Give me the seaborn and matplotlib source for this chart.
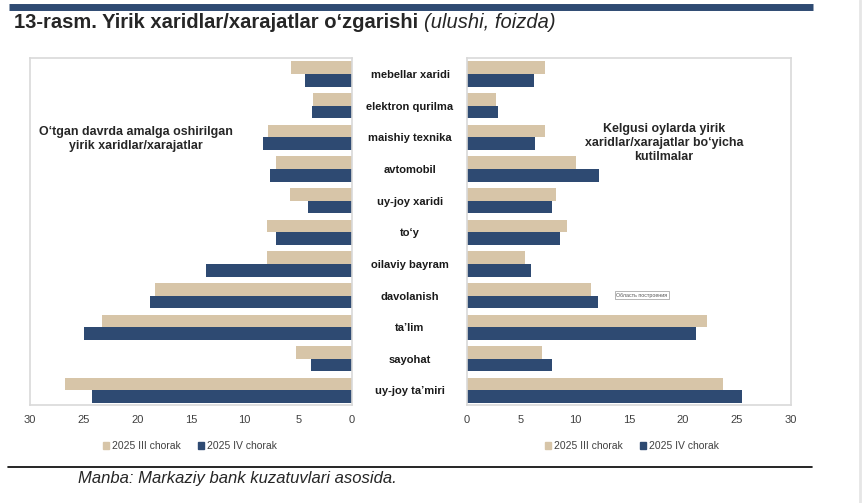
import pandas as pd
import matplotlib.pyplot as plt
import seaborn as sns
from matplotlib.patches import Patch
from matplotlib.lines import Line2D

# categories, top to bottom
categories = ['mebellar xaridi', 'elektron qurilma', 'maishiy texnika', 'avtomobil',
              'uy-joy xaridi', 'to‘y', 'oilaviy bayram', 'davolanish',
              'ta’lim', 'sayohat', 'uy-joy ta’miri']
periods = ['2025 III chorak', '2025 IV chorak']

# past period (left panel)
past_q3 = [5.7, 3.6, 7.8, 7.1, 5.8, 7.9, 7.9, 18.4, 23.3, 5.2, 26.7]
past_q4 = [4.4, 3.7, 8.3, 7.6, 4.1, 7.1, 13.6, 18.8, 25.0, 3.8, 24.2]
# expectations (right panel)
next_q3 = [7.2, 2.7, 7.2, 10.1, 8.2, 9.3, 5.4, 11.5, 22.2, 6.9, 23.7]
next_q4 = [6.2, 2.9, 6.3, 12.2, 7.9, 8.6, 5.9, 12.1, 21.2, 7.9, 25.5]

ticks = [0, 5, 10, 15, 20, 25, 30]

beige = '#D7C5A8'
navy = '#2E4A72'
grey = '#D9D9D9'


def long_df(q3, q4):
    df = pd.DataFrame({'cat': categories, periods[0]: q3, periods[1]: q4})
    return df.melt(id_vars='cat', var_name='period', value_name='val')


sns.set_theme(style='white')
plt.rcParams['font.family'] = ['Liberation Sans', 'DejaVu Sans']

fig = plt.figure(figsize=(8.63, 5.03), dpi=100)
fig.patch.set_facecolor('white')
W, H = 863, 503


def fx(px):
    return px / W


def fy(py):
    return 1 - py / H


ax_l = fig.add_axes([fx(30), fy(405), fx(322), 347 / H])
ax_r = fig.add_axes([fx(467), fy(405), fx(324), 347 / H])

pal = {periods[0]: beige, periods[1]: navy}
sns.barplot(data=long_df(past_q3, past_q4), y='cat', x='val', hue='period',
            orient='h', palette=pal, ax=ax_l, width=0.8, linewidth=0, legend=False,
            saturation=1)
sns.barplot(data=long_df(next_q3, next_q4), y='cat', x='val', hue='period',
            orient='h', palette=pal, ax=ax_r, width=0.8, linewidth=0, legend=False,
            saturation=1)

for ax in (ax_l, ax_r):
    ax.set_xticks(ticks)
    ax.set_xticklabels([str(t) for t in ticks], fontsize=8, color='#404040')
    ax.set_xlabel('')
    ax.set_ylabel('')
    ax.tick_params(axis='x', length=0, pad=7)
    ax.tick_params(axis='y', length=0)
    for s in ax.spines.values():
        s.set_color(grey)
        s.set_linewidth(1.2)
    ax.set_ylim(10.46, -0.51)

ax_l.set_xlim(30, 0)
ax_r.set_xlim(0, 30)
ax_l.tick_params(axis='y', labelleft=False)

# category labels centred between the two panels
ax_r.set_yticks(range(len(categories)))
ax_r.set_yticklabels(categories, fontsize=8, fontweight='bold', color='#1a1a1a')
ax_r.tick_params(axis='y', pad=41)
for lab in ax_r.get_yticklabels():
    lab.set_horizontalalignment('center')

# panel notes
fig.text(fx(136), fy(139), 'O‘tgan davrda amalga oshirilgan\nyirik xaridlar/xarajatlar',
         ha='center', va='center', fontsize=8.9, fontweight='bold', linespacing=1.25)
fig.text(fx(664), fy(143), 'Kelgusi oylarda yirik\nxaridlar/xarajatlar bo‘yicha\nkutilmalar',
         ha='center', va='center', fontsize=8.9, fontweight='bold', linespacing=1.25)

# tooltip artefact
fig.text(fx(642), fy(295), 'Область построения', ha='center', va='center', fontsize=3.8,
         color='#555555', bbox=dict(boxstyle='square,pad=0.3', fc='white', ec='#999999', lw=0.5))

# legends
handles = [Patch(color=beige), Patch(color=navy)]
for cx in (190, 632):
    fig.legend(handles, periods, loc='center', bbox_to_anchor=(fx(cx), fy(446)), ncol=2,
               frameon=False, fontsize=7.5, handlelength=0.6, handleheight=0.6,
               handletextpad=0.3, columnspacing=1.6, labelcolor='#404040')

# title, rules and source
fig.add_artist(Line2D([fx(9), fx(813)], [fy(6.5), fy(6.5)], color=navy, lw=5,
                      solid_capstyle='butt'))
title = '13-rasm. Yirik xaridlar/xarajatlar o‘zgarishi'
fig.text(fx(14), fy(23), title, ha='left', va='center', fontsize=14.5, fontweight='bold')
t = fig.text(fx(14), fy(23), title + ' ', ha='left', va='center', fontsize=14.5,
             fontweight='bold', alpha=0)
fig.canvas.draw()
bb = t.get_window_extent()
fig.text(bb.x1 / W, fy(23), '(ulushi, foizda)', ha='left', va='center',
         fontsize=14.5, fontstyle='italic')
fig.add_artist(Line2D([fx(8), fx(812)], [fy(467), fy(467)], color='black', lw=1.2))
fig.text(fx(78), fy(478), 'Manba: Markaziy bank kuzatuvlari asosida.', ha='left', va='center',
         fontsize=12, fontstyle='italic')
fig.add_artist(Line2D([fx(860), fx(860)], [0, 1], color='#E6E6E6', lw=2))

fig.savefig('out.png', dpi=100)
